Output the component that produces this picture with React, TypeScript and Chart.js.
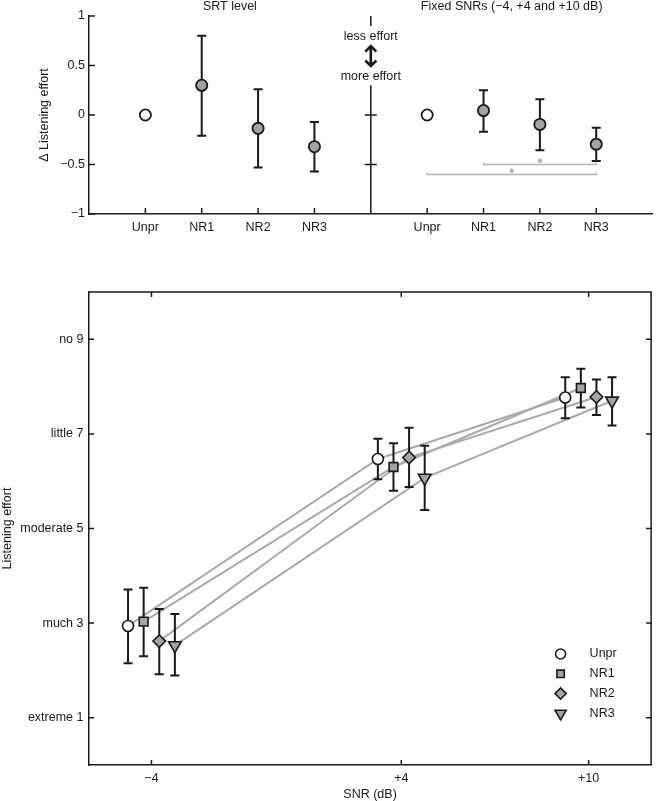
import React, { useEffect, useRef } from 'react';
import { Chart, registerables } from 'chart.js';
import { drawPoint } from 'chart.js/helpers';

Chart.register(...registerables);

// ---------- data ----------
const categories = ['Unpr', 'NR1', 'NR2', 'NR3'];

// Top panel: change in listening effort relative to Unpr
const srtMean = [0, 0.3, -0.135, -0.32];
const srtLow = [null, -0.21, -0.53, -0.57];
const srtHigh = [null, 0.8, 0.26, -0.07];

const fixedMean = [0, 0.045, -0.095, -0.295];
const fixedLow = [null, -0.17, -0.355, -0.465];
const fixedHigh = [null, 0.25, 0.16, -0.13];

// significance brackets in the fixed-SNR panel: [from, to, level]
const sigFrom = ['NR1', 'Unpr'];
const sigTo = ['NR3', 'NR3'];
const sigLevel = [-0.5, -0.6];

const topYTicks = [-1, -0.5, 0, 0.5, 1];
const dividerTicks = [0, -0.5];

// Bottom panel: listening effort per SNR
const snrLevels = [-4, 4, 10];
const dodge = [-0.75, -0.25, 0.25, 0.75];

const unprMean = [2.94, 6.47, 7.77];
const unprLow = [2.15, 6.04, 7.33];
const unprHigh = [3.71, 6.9, 8.2];

const nr1Mean = [3.03, 6.3, 7.97];
const nr1Low = [2.3, 5.8, 7.56];
const nr1High = [3.75, 6.8, 8.38];

const nr2Mean = [2.62, 6.5, 7.78];
const nr2Low = [1.92, 5.88, 7.4];
const nr2High = [3.3, 7.13, 8.15];

const nr3Mean = [2.53, 6.07, 7.7];
const nr3Low = [1.89, 5.39, 7.18];
const nr3High = [3.19, 6.75, 8.2];

const effortTickValues = [1, 3, 5, 7, 9];
const effortTickLabels = ['extreme 1', 'much 3', 'moderate 5', 'little 7', 'no 9'];

// ---------- styles ----------
const FONT = '"Liberation Sans", Arial, Helvetica, sans-serif';
const FS = 12.5;
const INK = '#1a1a1a';
const GREY_FILL = '#a3a3a3';
const GREY_LINE = '#aaaaaa';
const SIG_GREY = '#b4b4b4';

Chart.defaults.font.family = FONT;
Chart.defaults.font.size = FS;
Chart.defaults.color = INK;

const fmtNum = (v: number) => (v < 0 ? '\u2212' + Math.abs(v) : String(v));

// ---------- plugins ----------
const innerTicks = {
  id: 'innerTicks',
  afterDraw(chart: any, _a: any, opts: any) {
    const { ctx, chartArea: a } = chart;
    const len = opts.length || 6;
    const xs = chart.scales.x;
    const ys = chart.scales.y;
    ctx.save();
    ctx.strokeStyle = INK;
    ctx.lineWidth = 1.5;
    ctx.beginPath();
    for (const t of ys.ticks) {
      const py = ys.getPixelForValue(t.value);
      ctx.moveTo(a.left, py);
      ctx.lineTo(a.left + len, py);
      if (opts.mirror) {
        ctx.moveTo(a.right, py);
        ctx.lineTo(a.right - len, py);
      }
    }
    for (const t of xs.ticks) {
      const px = xs.getPixelForValue(t.value);
      ctx.moveTo(px, a.bottom);
      ctx.lineTo(px, a.bottom - len);
      if (opts.mirror) {
        ctx.moveTo(px, a.top);
        ctx.lineTo(px, a.top + len);
      }
    }
    ctx.stroke();
    if (opts.mirror) {
      ctx.beginPath();
      ctx.moveTo(a.left, a.top);
      ctx.lineTo(a.right, a.top);
      ctx.lineTo(a.right, a.bottom);
      ctx.stroke();
    }
    ctx.restore();
  },
};

const errorBars = {
  id: 'errorBars',
  beforeDatasetDraw(chart: any, args: any) {
    const ds = chart.data.datasets[args.index];
    if (!ds.errLow) return;
    const ys = chart.scales.y;
    const ctx = chart.ctx;
    ctx.save();
    ctx.strokeStyle = INK;
    ctx.lineWidth = 2;
    ctx.beginPath();
    args.meta.data.forEach((pt: any, i: number) => {
      const lo = ds.errLow[i];
      const hi = ds.errHigh[i];
      if (lo == null || hi == null) return;
      const y1 = ys.getPixelForValue(lo);
      const y2 = ys.getPixelForValue(hi);
      const x = pt.x;
      const cap = 4.5;
      ctx.moveTo(x, y1);
      ctx.lineTo(x, y2);
      ctx.moveTo(x - cap, y1);
      ctx.lineTo(x + cap, y1);
      ctx.moveTo(x - cap, y2);
      ctx.lineTo(x + cap, y2);
    });
    ctx.stroke();
    ctx.restore();
  },
};

const topDecor = {
  id: 'topDecor',
  afterDraw(chart: any) {
    const { ctx, chartArea: a } = chart;
    const xs = chart.scales.x;
    const ys = chart.scales.y;
    const midX = xs.getPixelForValue(5);
    ctx.save();
    ctx.fillStyle = INK;
    ctx.font = `${FS}px ${FONT}`;
    ctx.textAlign = 'center';
    ctx.textBaseline = 'middle';
    ctx.fillText('SRT level', (a.left + midX) / 2, 7);
    ctx.fillText('Fixed SNRs (\u22124, +4 and +10 dB)', (midX + a.right) / 2, 7);

    // divider with gap for annotation
    ctx.strokeStyle = INK;
    ctx.lineWidth = 1.5;
    ctx.beginPath();
    ctx.moveTo(midX, a.top);
    ctx.lineTo(midX, ys.getPixelForValue(0.9));
    ctx.moveTo(midX, ys.getPixelForValue(0.3));
    ctx.lineTo(midX, a.bottom);
    for (const v of dividerTicks) {
      const py = ys.getPixelForValue(v);
      ctx.moveTo(midX - 6, py);
      ctx.lineTo(midX + 6, py);
    }
    ctx.stroke();

    ctx.fillText('less effort', midX, ys.getPixelForValue(0.79));
    ctx.fillText('more effort', midX, ys.getPixelForValue(0.385));

    // double arrow
    const yA = ys.getPixelForValue(0.695);
    const yB = ys.getPixelForValue(0.495);
    ctx.lineWidth = 2.6;
    ctx.lineJoin = 'miter';
    ctx.beginPath();
    ctx.moveTo(midX, yA);
    ctx.lineTo(midX, yB);
    ctx.moveTo(midX - 5.5, yA + 5.5);
    ctx.lineTo(midX, yA);
    ctx.lineTo(midX + 5.5, yA + 5.5);
    ctx.moveTo(midX - 5.5, yB - 5.5);
    ctx.lineTo(midX, yB);
    ctx.lineTo(midX + 5.5, yB - 5.5);
    ctx.stroke();

    // significance brackets
    ctx.strokeStyle = SIG_GREY;
    ctx.fillStyle = SIG_GREY;
    ctx.lineWidth = 1.5;
    sigLevel.forEach((lvl, k) => {
      const x1 = xs.getPixelForValue(categories.indexOf(sigFrom[k]) + 6);
      const x2 = xs.getPixelForValue(categories.indexOf(sigTo[k]) + 6);
      const py = ys.getPixelForValue(lvl);
      ctx.beginPath();
      ctx.moveTo(x1, py - 2);
      ctx.lineTo(x1, py);
      ctx.lineTo(x2, py);
      ctx.lineTo(x2, py - 2);
      ctx.stroke();
      ctx.beginPath();
      ctx.arc((x1 + x2) / 2, ys.getPixelForValue(lvl + 0.038), 2.2, 0, Math.PI * 2);
      ctx.fill();
    });
    ctx.restore();
  },
};

const conditions = [
  { name: 'Unpr', mean: unprMean, low: unprLow, high: unprHigh, style: 'circle', r: 5.5, lr: 5, rot: 0, fill: '#ffffff' },
  { name: 'NR1', mean: nr1Mean, low: nr1Low, high: nr1High, style: 'rect', r: 6.2, lr: 5.2, rot: 0, fill: GREY_FILL },
  { name: 'NR2', mean: nr2Mean, low: nr2Low, high: nr2High, style: 'rectRot', r: 6.3, lr: 5.6, rot: 0, fill: GREY_FILL },
  { name: 'NR3', mean: nr3Mean, low: nr3Low, high: nr3High, style: 'triangle', r: 7.3, lr: 6.4, rot: 180, fill: GREY_FILL },
];

const bottomLegend = {
  id: 'bottomLegend',
  afterDraw(chart: any) {
    const { ctx, chartArea: a } = chart;
    const mx = a.right - 90.5;
    const tx = a.right - 61.5;
    const y0 = a.bottom - 111;
    const gap = 19.8;
    ctx.save();
    conditions.forEach((c, i) => {
      const y = y0 + i * gap;
      ctx.fillStyle = c.fill;
      ctx.strokeStyle = INK;
      ctx.lineWidth = 1.6;
      drawPoint(ctx, { pointStyle: c.style, rotation: c.rot, radius: c.lr, borderWidth: 1.6 } as any, mx, y);
      ctx.fillStyle = INK;
      ctx.font = `${FS}px ${FONT}`;
      ctx.textAlign = 'left';
      ctx.textBaseline = 'middle';
      ctx.fillText(c.name, tx, y);
    });
    ctx.restore();
  },
};

export default function App() {
  const topRef = useRef<HTMLCanvasElement>(null);
  const botRef = useRef<HTMLCanvasElement>(null);

  useEffect(() => {
    const fill = categories.map((c) => (c === 'Unpr' ? '#ffffff' : GREY_FILL));
    const topXTicks = [...categories.map((_, i) => i + 1), ...categories.map((_, i) => i + 6)];
    const topChart = new Chart(topRef.current as HTMLCanvasElement, {
      type: 'scatter',
      data: {
        datasets: [
          {
            label: 'SRT level',
            data: categories.map((_, i) => ({ x: i + 1, y: srtMean[i] })),
            errLow: srtLow,
            errHigh: srtHigh,
            pointStyle: 'circle',
            pointRadius: 5.6,
            pointBackgroundColor: fill,
            pointBorderColor: INK,
            pointBorderWidth: 1.8,
          } as any,
          {
            label: 'Fixed SNRs',
            data: categories.map((_, i) => ({ x: i + 6, y: fixedMean[i] })),
            errLow: fixedLow,
            errHigh: fixedHigh,
            pointStyle: 'circle',
            pointRadius: 5.6,
            pointBackgroundColor: fill,
            pointBorderColor: INK,
            pointBorderWidth: 1.8,
          } as any,
        ],
      },
      options: {
        responsive: false,
        animation: false,
        devicePixelRatio: 1,
        layout: { padding: { top: 16, right: 1, left: 0, bottom: 0 } },
        plugins: {
          legend: { display: false },
          tooltip: { enabled: false },
          innerTicks: { length: 6, mirror: false },
        } as any,
        scales: {
          x: {
            type: 'linear',
            min: 0,
            max: 10,
            grid: { display: false, drawTicks: false },
            border: { display: true, color: INK, width: 1.5 },
            afterBuildTicks: (s: any) => {
              s.ticks = topXTicks.map((v) => ({ value: v }));
            },
            afterFit: (s: any) => {
              s.height = 26;
            },
            ticks: {
              autoSkip: false,
              maxRotation: 0,
              padding: 6,
              color: INK,
              callback: (v: any) => categories[v < 5 ? v - 1 : v - 6],
            },
          },
          y: {
            min: -1,
            max: 1,
            grid: { display: false, drawTicks: false },
            border: { display: true, color: INK, width: 1.5 },
            afterBuildTicks: (s: any) => {
              s.ticks = topYTicks.map((v) => ({ value: v }));
            },
            afterFit: (s: any) => {
              s.width = 89;
            },
            ticks: { padding: 4, color: INK, callback: (v: any) => fmtNum(v) },
            title: {
              display: true,
              text: '\u0394 Listening effort',
              color: INK,
              font: { size: FS, lineHeight: 1 },
              padding: { top: 38.5, bottom: 0 },
            },
          },
        },
      } as any,
      plugins: [innerTicks, errorBars, topDecor],
    });

    const lineSets = conditions.map((c, i) => ({
      label: c.name + ' line',
      data: snrLevels.map((s, j) => ({ x: s + dodge[i], y: c.mean[j] })),
      showLine: true,
      borderColor: GREY_LINE,
      borderWidth: 2,
      pointRadius: 0,
      order: 2,
    }));
    const pointSets = conditions.map((c, i) => ({
      label: c.name,
      data: snrLevels.map((s, j) => ({ x: s + dodge[i], y: c.mean[j] })),
      errLow: c.low,
      errHigh: c.high,
      showLine: false,
      pointStyle: c.style,
      pointRotation: c.rot,
      pointRadius: c.r,
      pointBackgroundColor: c.fill,
      pointBorderColor: INK,
      pointBorderWidth: 1.6,
      order: 1,
    }));

    const botChart = new Chart(botRef.current as HTMLCanvasElement, {
      type: 'scatter',
      data: { datasets: [...pointSets, ...lineSets] as any },
      options: {
        responsive: false,
        animation: false,
        devicePixelRatio: 1,
        layout: { padding: { top: 52, right: 2, left: 0, bottom: 0 } },
        plugins: {
          legend: { display: false },
          tooltip: { enabled: false },
          innerTicks: { length: 5, mirror: true },
        } as any,
        scales: {
          x: {
            type: 'linear',
            min: -6,
            max: 12,
            grid: { display: false, drawTicks: false },
            border: { display: true, color: INK, width: 1.5 },
            afterBuildTicks: (s: any) => {
              s.ticks = snrLevels.map((v) => ({ value: v }));
            },
            afterFit: (s: any) => {
              s.height = 36;
            },
            ticks: {
              autoSkip: false,
              maxRotation: 0,
              padding: 6,
              color: INK,
              callback: (v: any) => (v < 0 ? '\u2212' + Math.abs(v) : '+' + v),
            },
            title: {
              display: true,
              text: 'SNR (dB)',
              color: INK,
              font: { size: FS, lineHeight: 1 },
              padding: { top: 0, bottom: 0 },
            },
          },
          y: {
            min: 0,
            max: 10,
            grid: { display: false, drawTicks: false },
            border: { display: true, color: INK, width: 1.5 },
            afterBuildTicks: (s: any) => {
              s.ticks = effortTickValues.map((v) => ({ value: v }));
            },
            afterFit: (s: any) => {
              s.width = 89;
            },
            ticks: {
              padding: 5.5,
              color: INK,
              callback: (v: any) => effortTickLabels[effortTickValues.indexOf(v)],
            },
            title: {
              display: true,
              text: 'Listening effort',
              color: INK,
              font: { size: FS, lineHeight: 1 },
              padding: { top: 1.3, bottom: 0 },
            },
          },
        },
      } as any,
      plugins: [innerTicks, errorBars, bottomLegend],
    });

    return () => {
      topChart.destroy();
      botChart.destroy();
    };
  }, []);

  return (
    <div style={{ position: 'absolute', left: 0, top: 0, width: 660, height: 801, background: '#fff' }}>
      <canvas
        ref={topRef}
        width={660}
        height={240}
        style={{ position: 'absolute', left: 0, top: 0, width: 660, height: 240 }}
      />
      <canvas
        ref={botRef}
        width={660}
        height={561}
        style={{ position: 'absolute', left: 0, top: 240, width: 660, height: 561 }}
      />
    </div>
  );
}
